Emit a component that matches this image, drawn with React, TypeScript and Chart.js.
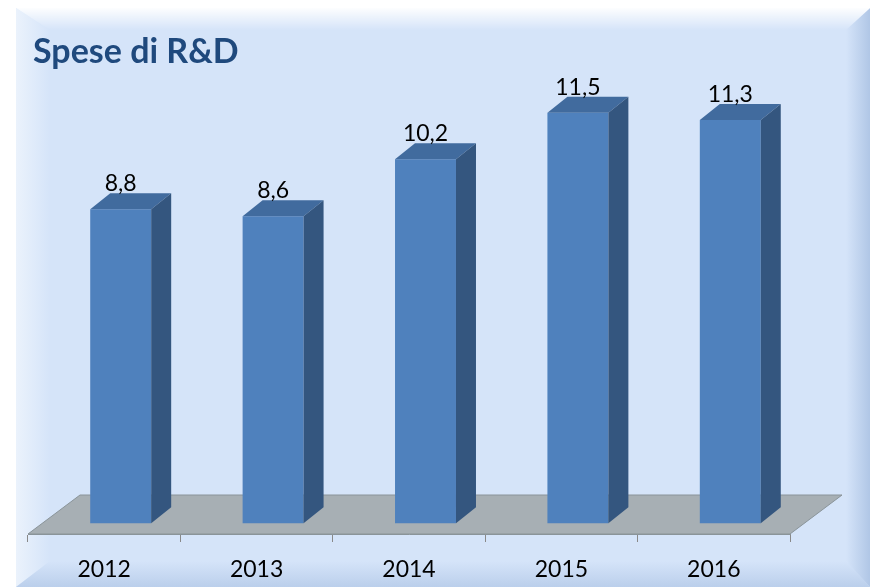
import React, { useEffect, useRef } from 'react';
import { Chart, registerables } from 'chart.js';

Chart.register(...registerables);

const categories: string[] = ['2012', '2013', '2014', '2015', '2016'];
const values: number[] = [8.8, 8.6, 10.2, 11.5, 11.3];
const chartTitle = 'Spese di R&D';

const W = 870;
const H = 587;
const SHIFT = 16.5;
const DX = 20;
const DY = 16;
const FLOOR_DX = 52;
const FLOOR_DY = 39;
const FONT = 'Lato, "Open Sans", "Noto Sans", sans-serif';

const fmt = (v: number) => v.toFixed(1).replace('.', ',');

const backgroundPlugin = {
  id: 'bgFrame',
  beforeDraw(chart: any) {
    const ctx = chart.ctx as CanvasRenderingContext2D;
    ctx.save();
    ctx.fillStyle = '#ffffff';
    ctx.fillRect(0, 0, W, H);
    const x0 = 16, y0 = 8;
    ctx.fillStyle = '#D5E4F9';
    ctx.fillRect(x0, y0, W - x0, H - y0);
    // left bevel
    let g = ctx.createLinearGradient(x0, 0, x0 + 34, 0);
    g.addColorStop(0, 'rgba(236,243,252,0.95)');
    g.addColorStop(1, 'rgba(236,243,252,0)');
    ctx.fillStyle = g;
    ctx.beginPath();
    ctx.moveTo(x0, y0); ctx.lineTo(x0 + 34, y0 + 22); ctx.lineTo(x0 + 34, H - 26); ctx.lineTo(x0, H);
    ctx.closePath(); ctx.fill();
    // right bevel
    g = ctx.createLinearGradient(W, 0, W - 24, 0);
    g.addColorStop(0, 'rgba(172,195,228,0.9)');
    g.addColorStop(1, 'rgba(172,195,228,0)');
    ctx.fillStyle = g;
    ctx.beginPath();
    ctx.moveTo(W, y0); ctx.lineTo(W - 24, y0 + 22); ctx.lineTo(W - 24, H - 26); ctx.lineTo(W, H);
    ctx.closePath(); ctx.fill();
    // bottom bevel
    g = ctx.createLinearGradient(0, H, 0, H - 26);
    g.addColorStop(0, 'rgba(178,200,231,0.75)');
    g.addColorStop(1, 'rgba(178,200,231,0)');
    ctx.fillStyle = g;
    ctx.beginPath();
    ctx.moveTo(x0, H); ctx.lineTo(x0 + 34, H - 26); ctx.lineTo(W - 24, H - 26); ctx.lineTo(W, H);
    ctx.closePath(); ctx.fill();
    // top bevel
    g = ctx.createLinearGradient(0, y0, 0, y0 + 22);
    g.addColorStop(0, 'rgba(255,255,255,0.95)');
    g.addColorStop(1, 'rgba(255,255,255,0)');
    ctx.fillStyle = g;
    ctx.beginPath();
    ctx.moveTo(x0, y0); ctx.lineTo(W, y0); ctx.lineTo(W - 24, y0 + 22); ctx.lineTo(x0 + 34, y0 + 22);
    ctx.closePath(); ctx.fill();
    // title
    ctx.fillStyle = '#1F497D';
    ctx.font = `bold 34px ${FONT}`;
    ctx.textAlign = 'left';
    ctx.textBaseline = 'alphabetic';
    ctx.fillText(chartTitle, 33, 63);
    ctx.restore();
  },
  beforeDatasetsDraw(chart: any) {
    const ctx = chart.ctx as CanvasRenderingContext2D;
    const { left, right, bottom } = chart.chartArea;
    ctx.save();
    ctx.fillStyle = '#A7AFB4';
    ctx.strokeStyle = '#8A9499';
    ctx.lineWidth = 1;
    ctx.beginPath();
    ctx.moveTo(left, bottom);
    ctx.lineTo(left + FLOOR_DX, bottom - FLOOR_DY);
    ctx.lineTo(right + FLOOR_DX, bottom - FLOOR_DY);
    ctx.lineTo(right, bottom);
    ctx.closePath();
    ctx.fill();
    ctx.stroke();
    ctx.restore();
    ctx.save();
    ctx.translate(SHIFT, 0);
  },
  afterDatasetsDraw(chart: any) {
    const ctx = chart.ctx as CanvasRenderingContext2D;
    const meta = chart.getDatasetMeta(0);
    meta.data.forEach((bar: any) => {
      const { x, y, base, width } = bar.getProps(['x', 'y', 'base', 'width'], true);
      const l = x - width / 2;
      const r = x + width / 2;
      ctx.fillStyle = '#416B9E';
      ctx.beginPath();
      ctx.moveTo(l, y); ctx.lineTo(l + DX, y - DY); ctx.lineTo(r + DX, y - DY); ctx.lineTo(r, y);
      ctx.closePath(); ctx.fill();
      ctx.fillStyle = '#34567F';
      ctx.beginPath();
      ctx.moveTo(r, y); ctx.lineTo(r + DX, y - DY); ctx.lineTo(r + DX, base - DY); ctx.lineTo(r, base);
      ctx.closePath(); ctx.fill();
    });
    ctx.restore();
    ctx.save();
    ctx.fillStyle = '#000000';
    ctx.font = `23px ${FONT}`;
    ctx.textAlign = 'center';
    ctx.textBaseline = 'alphabetic';
    meta.data.forEach((bar: any, i: number) => {
      const { x, y } = bar.getProps(['x', 'y'], true);
      ctx.fillText(fmt(values[i]), x + SHIFT, y - 18);
    });
    ctx.restore();
  },
};

export default function App() {
  const ref = useRef<HTMLCanvasElement | null>(null);
  useEffect(() => {
    if (!ref.current) return;
    const chart = new Chart(ref.current, {
      type: 'bar',
      data: {
        labels: categories,
        datasets: [
          {
            data: values,
            backgroundColor: '#4F81BD',
            borderWidth: 0,
            categoryPercentage: 1,
            barPercentage: 0.4,
            clip: false as any,
          },
        ],
      },
      options: {
        animation: false,
        responsive: false,
        devicePixelRatio: 1,
        layout: { padding: { top: 70, left: 28, right: 80, bottom: 4 } },
        plugins: { legend: { display: false }, tooltip: { enabled: false }, title: { display: false } },
        scales: {
          y: { display: false, min: -0.3, max: 12.7 },
          x: {
            grid: { offset: true, drawOnChartArea: false, tickLength: 8, color: '#898989' },
            border: { display: true, color: '#8A9499' },
            ticks: { font: { family: FONT, size: 23 }, color: '#000000', padding: 14 },
            afterFit: (scale: any) => {
              scale.height = 49;
            },
          },
        },
      },
      plugins: [backgroundPlugin],
    });
    return () => chart.destroy();
  }, []);
  return (
    <div style={{ position: 'absolute', left: 0, top: 0, width: W, height: H }}>
      <canvas ref={ref} width={W} height={H} />
    </div>
  );
}
